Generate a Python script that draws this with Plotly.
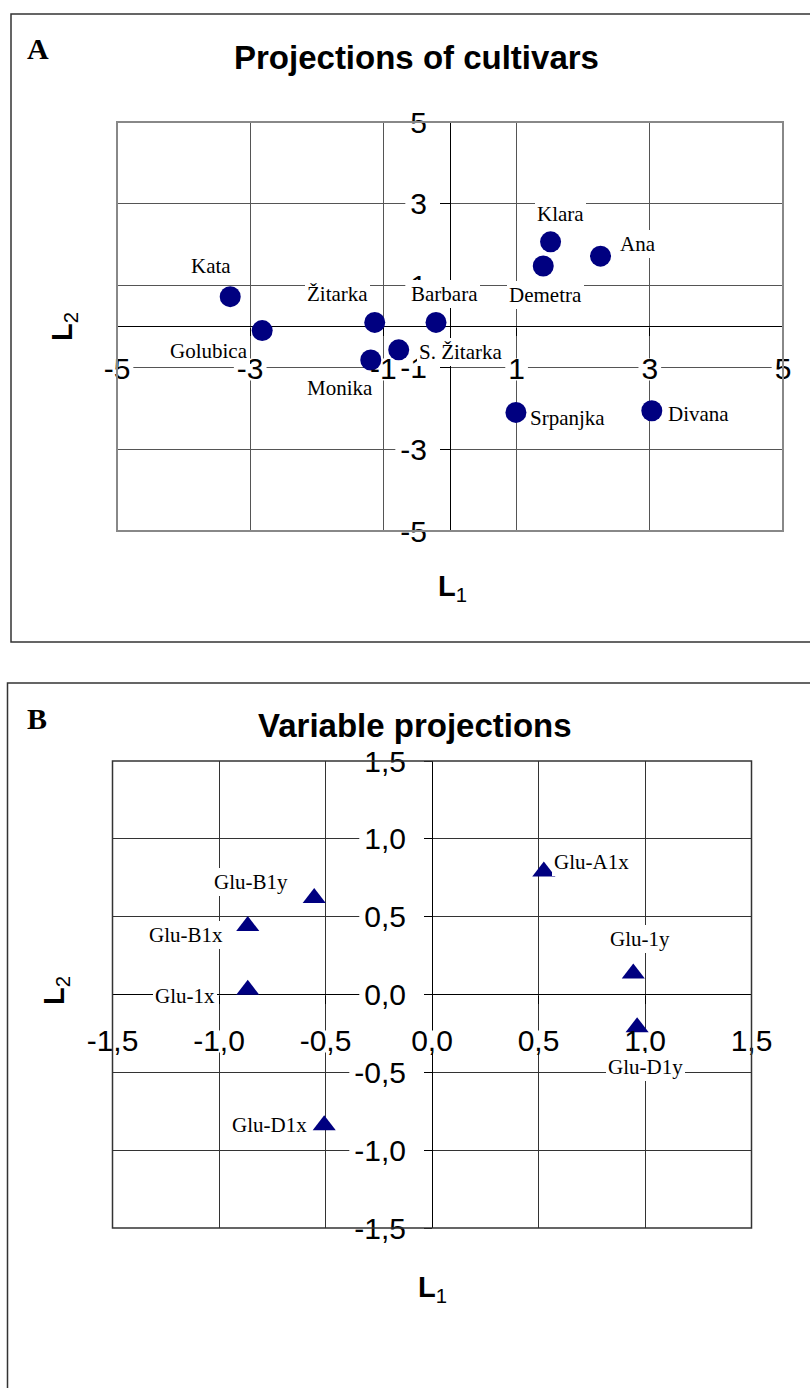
import plotly.graph_objects as go

W, H = 810, 1388

# ---------------- data ----------------
# Panel A: projections of cultivars
cultivars = ["Kata", "Golubica", "Žitarka", "Barbara", "S. Žitarka", "Monika",
             "Klara", "Demetra", "Ana", "Srpanjka", "Divana"]
cult_L1 = [-3.30, -2.82, -1.13, -0.21, -0.77, -1.19, 1.51, 1.40, 2.26, 0.99, 3.03]
cult_L2 = [0.73, -0.10, 0.10, 0.10, -0.57, -0.82, 2.07, 1.48, 1.72, -2.10, -2.06]
A_tickvals = [-5, -3, -1, 1, 3, 5]
A_ticktext = ["-5", "-3", "-1", "1", "3", "5"]

# Panel B: variable projections
variables = ["Glu-A1x", "Glu-B1y", "Glu-B1x", "Glu-1x", "Glu-1y", "Glu-D1y", "Glu-D1x"]
var_L1 = [0.525, -0.553, -0.865, -0.865, 0.945, 0.963, -0.506]
var_L2 = [0.79, 0.62, 0.44, 0.03, 0.135, -0.21, -0.84]
B_tickvals = [-1.5, -1.0, -0.5, 0.0, 0.5, 1.0, 1.5]
B_ticktext = ["-1,5", "-1,0", "-0,5", "0,0", "0,5", "1,0", "1,5"]

# ---------------- layout helpers (pixel placement of labels) ----------------
# (xanchor, xshift px, yshift px) for each point label
A_label_place = {
    "Kata": ("center", -19, 31),
    "Golubica": ("center", -53, -20),
    "Žitarka": ("center", -37, 28),
    "Barbara": ("center", 8, 28),
    "S. Žitarka": ("left", 18, -2),
    "Monika": ("center", -31, -28),
    "Klara": ("center", 10, 28),
    "Demetra": ("center", 2, -29),
    "Ana": ("left", 17, 12),
    "Srpanjka": ("left", 12, -6),
    "Divana": ("left", 14, -3),
}
B_label_place = {
    "Glu-A1x": ("left", 8, 10),
    "Glu-B1y": ("center", -63, 16),
    "Glu-B1x": ("center", -62, -9),
    "Glu-1x": ("center", -63, -6),
    "Glu-1y": ("center", 7, 34),
    "Glu-D1y": ("center", 8, -40),
    "Glu-D1x": ("right", -15, 0),
}


def px_x(p):
    return p / W


def px_y(p):
    return 1 - p / H


A_dom_x = [px_x(117), px_x(783)]
A_dom_y = [px_y(531), px_y(122)]
B_dom_x = [px_x(112.5), px_x(751.5)]
B_dom_y = [px_y(1228), px_y(761)]

NAVY = "#000080"
SANS = "Liberation Sans, Arial, Helvetica, sans-serif"
SERIF = "Liberation Serif, Times New Roman, serif"
TICK_SIZE = 30
tick_font = dict(family=SANS, size=TICK_SIZE, color="black")
label_font = dict(family=SERIF, size=21, color="black")

fig = go.Figure()
fig.add_trace(go.Scatter(
    x=cult_L1, y=cult_L2, mode="markers", xaxis="x", yaxis="y",
    marker=dict(symbol="circle", size=21, color=NAVY),
    showlegend=False, hoverinfo="skip"))
fig.add_trace(go.Scatter(
    x=var_L1, y=var_L2, mode="markers", xaxis="x2", yaxis="y2",
    marker=dict(symbol="triangle-up", size=20, color=NAVY),
    showlegend=False, hoverinfo="skip"))


def axis(domain, rng, tickvals, ticktext, position, ticklen, standoff, gridcolor):
    return dict(
        domain=domain, range=rng, tickmode="array", tickvals=tickvals, ticktext=ticktext,
        showgrid=True, gridcolor=gridcolor, gridwidth=1,
        zeroline=True, zerolinecolor="black", zerolinewidth=1.2,
        showline=False, ticks="outside", ticklen=ticklen, tickwidth=1, tickcolor="black",
        tickfont=tick_font, anchor="free", position=position,
        ticklabelstandoff=standoff, fixedrange=True, automargin=False,
    )


layout = dict(
    width=W, height=H, margin=dict(l=0, r=0, t=0, b=0, pad=0, autoexpand=False),
    paper_bgcolor="white", plot_bgcolor="white",
    xaxis=axis(A_dom_x, [-5, 5], A_tickvals, A_ticktext,
               (A_dom_y[0] + A_dom_y[1]) / 2, 8, 7, "#555555"),
    yaxis=axis(A_dom_y, [-5, 5], A_tickvals, A_ticktext,
               (A_dom_x[0] + A_dom_x[1]) / 2, 10, 7, "#555555"),
    xaxis2=axis(B_dom_x, [-1.5, 1.5], B_tickvals, B_ticktext,
                (B_dom_y[0] + B_dom_y[1]) / 2, 8, 11, "#333333"),
    yaxis2=axis(B_dom_y, [-1.5, 1.5], B_tickvals, B_ticktext,
                (B_dom_x[0] + B_dom_x[1]) / 2, 8, 12, "#333333"),
)
fig.update_layout(**layout)


def text_w(s):
    # approximate rendered width of an Arial-metric tick label
    w = {"-": 0.333, ",": 0.278}
    return TICK_SIZE * sum(w.get(c, 0.556) for c in s)


shapes = [
    # outer panel frames (extend beyond the page on the right / bottom)
    dict(type="rect", xref="paper", yref="paper", x0=px_x(11), x1=1.05,
         y0=px_y(642), y1=px_y(14), line=dict(color="#333333", width=1.5)),
    dict(type="rect", xref="paper", yref="paper", x0=px_x(7.5), x1=1.05,
         y0=-0.05, y1=px_y(683), line=dict(color="#333333", width=1.5)),
    # plot-area borders
    dict(type="rect", xref="x domain", yref="y domain", x0=0, x1=1, y0=0, y1=1,
         line=dict(color="#888888", width=2), layer="above"),
    dict(type="rect", xref="x2 domain", yref="y2 domain", x0=0, x1=1, y0=0, y1=1,
         line=dict(color="#333333", width=1.5), layer="above"),
]


# white boxes behind tick labels (they break the gridlines, as in the original)
def label_boxes(xr, yr, vals, texts, ygap, xgap, ticklen):
    out = []
    for v, t in zip(vals, texts):
        w = text_w(t)
        # x-axis labels (below the horizontal axis at y=0)
        out.append(dict(type="rect", xref=xr, yref=yr, layer="between",
                        xsizemode="pixel", xanchor=v, x0=-w / 2 - 3, x1=w / 2 + 3,
                        ysizemode="pixel", yanchor=0, y0=-(ygap + 11), y1=-(ygap - 11),
                        fillcolor="white", line=dict(width=0)))
        # y-axis labels (left of the vertical axis at x=0)
        out.append(dict(type="rect", xref=xr, yref=yr, layer="between",
                        xsizemode="pixel", xanchor=0, x0=-(xgap + w + 3), x1=-ticklen,
                        ysizemode="pixel", yanchor=v, y0=-12, y1=10,
                        fillcolor="white", line=dict(width=0)))
    return out


shapes += label_boxes("x", "y", A_tickvals, A_ticktext, 43, 25, 10)
shapes += label_boxes("x2", "y2", B_tickvals, B_ticktext, 47, 28, 8)
fig.update_layout(shapes=shapes)

ann = []
for name, x, y in zip(cultivars, cult_L1, cult_L2):
    xa, dx, dy = A_label_place[name]
    ann.append(dict(x=x, y=y, xref="x", yref="y", text=name, showarrow=False,
                    xanchor=xa, yanchor="middle", xshift=dx, yshift=dy,
                    font=label_font, bgcolor="white", borderpad=2, borderwidth=0))
for name, x, y in zip(variables, var_L1, var_L2):
    xa, dx, dy = B_label_place[name]
    ann.append(dict(x=x, y=y, xref="x2", yref="y2", text=name, showarrow=False,
                    xanchor=xa, yanchor="middle", xshift=dx, yshift=dy,
                    font=label_font, bgcolor="white", borderpad=2, borderwidth=0))

title_font = dict(family=SANS, size=33, color="black", weight="bold")
panel_font = dict(family=SERIF, size=30, color="black", weight="bold")
axt_font = dict(family=SANS, size=29, color="black")


def paper_text(text, xp, yp, font, angle=0):
    return dict(x=px_x(xp), y=px_y(yp), xref="paper", yref="paper", text=text,
                showarrow=False, xanchor="center", yanchor="middle", font=font,
                textangle=angle)


ann += [
    paper_text("A", 38, 48, panel_font),
    paper_text("Projections of cultivars", 416, 57, title_font),
    paper_text("<b>L</b><sub>1</sub>", 452, 588, axt_font),
    paper_text("<b>L</b><sub>2</sub>", 64, 327, axt_font, -90),
    paper_text("B", 37, 718, panel_font),
    paper_text("Variable projections", 415, 725, title_font),
    paper_text("<b>L</b><sub>1</sub>", 432, 1289, axt_font),
    paper_text("<b>L</b><sub>2</sub>", 56, 990, axt_font, -90),
]
fig.update_layout(annotations=ann)

fig.write_html("out.html", config={"displayModeBar": False})
